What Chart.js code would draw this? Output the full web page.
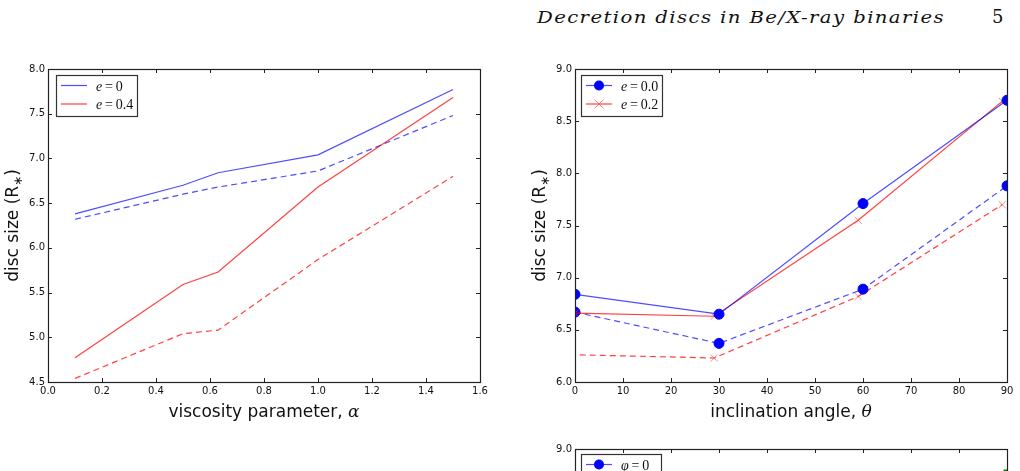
<!DOCTYPE html>
<html>
<head>
<meta charset="utf-8">
<script src="https://cdn.jsdelivr.net/npm/chart.js@4.4.0/dist/chart.umd.min.js"></script>
<style>
  html, body { margin: 0; padding: 0; background: #fff; }
  body { width: 1020px; height: 471px; overflow: hidden; position: relative; }
  canvas { position: absolute; }
  #cabecalho { position: absolute; left: 537px; top: 7px; font-family: 'DejaVu Serif'; font-style: italic; font-size: 17px; letter-spacing: 1.2px; color: #111; white-space: nowrap; transform-origin: 0 0; }
  #pagina { position: absolute; left: 992px; top: 6px; font-family: 'DejaVu Serif'; font-size: 18px; color: #111; }
</style>
</head>
<body>
<div id="cabecalho">Decretion discs in Be/X-ray binaries</div>
<div id="pagina">5</div>
<canvas id="graficoViscosidade" width="500" height="380" style="left:0;top:55px"></canvas>
<canvas id="graficoInclinacao" width="500" height="380" style="left:520px;top:55px"></canvas>
<canvas id="graficoFase" width="500" height="380" style="left:520px;top:435px"></canvas>
<script>
// DADOS - viscosity parameter
var alphaValues = [0.1, 0.5, 0.63, 1.0, 1.5];
var sizeE0 = [6.38, 6.70, 6.84, 7.04, 7.77];
var sizeE0Dashed = [6.32, 6.60, 6.68, 6.86, 7.48];
var sizeE04 = [4.77, 5.59, 5.73, 6.68, 7.68];
var sizeE04Dashed = [4.54, 5.04, 5.08, 5.87, 6.80];

// DADOS - inclination angle
var thetaBlue = [0, 30, 60, 90];
var sizeTheta00 = [6.84, 6.65, 7.71, 8.70];
var sizeTheta00Dashed = [6.67, 6.37, 6.89, 7.88];
var thetaRed = [0, 29, 59, 89];
var sizeTheta02 = [6.66, 6.63, 7.55, 8.69];
var thetaRedDashed = [1, 29, 59, 89];
var sizeTheta02Dashed = [6.26, 6.23, 6.82, 7.70];

// DADOS - third panel (only its top edge is on the page)
var phiEdge = [90];
var sizePhiEdge = [8.77];

var xTicksAlpha = { min: 0, max: 1.6, step: 0.2 };
var yTicksAlpha = { min: 4.5, max: 8.0, step: 0.5 };
var xTicksTheta = { min: 0, max: 90, step: 10 };
var yTicksTheta = { min: 6.0, max: 9.0, step: 0.5 };

// running head stretched to the width it has in the page
var cab = document.getElementById('cabecalho');
cab.style.transform = 'scaleX(' + (408 / cab.getBoundingClientRect().width) + ')';

Chart.defaults.font.family = '"DejaVu Sans"';
Chart.defaults.font.size = 10;
Chart.defaults.color = '#111';

var AZUL = 'rgba(0, 0, 255, 0.7)';
var VERMELHO = 'rgba(255, 0, 0, 0.75)';

function pontos(xs, ys) {
    return xs.map(function (x, i) { return { x: x, y: ys[i] }; });
}

function serie(label, xs, ys, cor, tracejado, marcador) {
    var ds = {
        label: label,
        data: pontos(xs, ys),
        borderColor: cor,
        borderWidth: 1.2,
        borderDash: tracejado ? [6, 4] : [],
        pointRadius: 0,
        tension: 0,
        clip: 0
    };
    if (marcador === 'circle') {
        ds.pointStyle = 'circle';
        ds.pointRadius = 5;
        ds.pointBackgroundColor = '#0000ff';
        ds.pointBorderColor = '#0000ff';
        ds.pointBorderWidth = 1;
    }
    if (marcador === 'crossRot') {
        ds.pointStyle = 'crossRot';
        ds.pointRadius = 5;
        ds.pointBorderColor = 'rgba(255, 70, 70, 0.65)';
        ds.pointBorderWidth = 1;
    }
    if (marcador === 'rect') {
        ds.pointStyle = 'rect';
        ds.pointRadius = 4;
        ds.pointBackgroundColor = '#007a00';
        ds.pointBorderColor = '#007a00';
    }
    return ds;
}

// text made of pieces with different fonts (for the math bits)
function textoMisto(ctx, partes, x, y, centro) {
    var total = 0;
    partes.forEach(function (p) { ctx.font = p.font; total += ctx.measureText(p.text).width; });
    var cx = centro ? x - total / 2 : x;
    partes.forEach(function (p) {
        ctx.font = p.font;
        ctx.fillText(p.text, cx, y + (p.dy || 0));
        cx += ctx.measureText(p.text).width;
    });
}

function marcador(ctx, ds, x, y) {
    ctx.save();
    ctx.setLineDash([]);
    if (ds.pointStyle === 'crossRot') {
        ctx.strokeStyle = ds.pointBorderColor;
        ctx.lineWidth = 1;
        ctx.beginPath();
        ctx.moveTo(x - 4.5, y - 4.5); ctx.lineTo(x + 4.5, y + 4.5);
        ctx.moveTo(x + 4.5, y - 4.5); ctx.lineTo(x - 4.5, y + 4.5);
        ctx.stroke();
    } else if (ds.pointStyle === 'circle') {
        ctx.fillStyle = ds.pointBackgroundColor;
        ctx.beginPath();
        ctx.arc(x, y, 5, 0, Math.PI * 2);
        ctx.fill();
    }
    ctx.restore();
}

// frame, inward ticks, boxed legend and axis titles in matplotlib style
var molduraPlugin = {
    id: 'moldura',
    afterDatasetsDraw: function (chart, args, opts) {
        var ctx = chart.ctx, a = chart.chartArea;
        var xs = chart.scales.x, ys = chart.scales.y;
        ctx.save();
        ctx.strokeStyle = '#222';
        ctx.lineWidth = 1;
        ctx.setLineDash([]);
        ctx.beginPath();
        xs.ticks.forEach(function (t) {
            var px = Math.round(xs.getPixelForValue(t.value)) + 0.5;
            ctx.moveTo(px, a.bottom); ctx.lineTo(px, a.bottom - 4);
            ctx.moveTo(px, a.top); ctx.lineTo(px, a.top + 4);
        });
        ys.ticks.forEach(function (t) {
            var py = Math.round(ys.getPixelForValue(t.value)) + 0.5;
            ctx.moveTo(a.left, py); ctx.lineTo(a.left + 4, py);
            ctx.moveTo(a.right, py); ctx.lineTo(a.right - 4, py);
        });
        ctx.stroke();
        ctx.lineWidth = 1.2;
        ctx.strokeRect(a.left + 0.5, a.top + 0.5, a.right - a.left, a.bottom - a.top);

        // legend
        var lg = opts.legenda;
        var bx = a.left + lg.x, by = a.top + lg.y;
        ctx.fillStyle = '#fff';
        ctx.fillRect(bx, by, lg.w, lg.h);
        ctx.strokeStyle = '#333';
        ctx.strokeRect(bx + 0.5, by + 0.5, lg.w, lg.h);
        var linha = 0;
        chart.data.datasets.forEach(function (ds) {
            if (!ds.label) return;
            var cy = by + 10.5 + linha * 18.5;
            ctx.strokeStyle = ds.borderColor;
            ctx.lineWidth = ds.borderWidth;
            ctx.beginPath();
            ctx.moveTo(bx + 5, cy); ctx.lineTo(bx + 31, cy);
            ctx.stroke();
            if (ds.pointRadius) marcador(ctx, ds, bx + 18, cy);
            var p = ds.label.split('=');
            ctx.fillStyle = '#111';
            ctx.textBaseline = 'alphabetic';
            textoMisto(ctx, [
                { text: p[0], font: 'italic 14px "Liberation Serif"' },
                { text: '\u2009=\u2009' + p[1], font: '14px "Liberation Serif"' }
            ], bx + 40, cy + 5, false);
            linha++;
        });

        // axis titles
        ctx.fillStyle = '#111';
        ctx.textBaseline = 'alphabetic';
        textoMisto(ctx, opts.tituloX, (a.left + a.right) / 2, a.bottom + 35, true);
        ctx.translate(a.left - 30, (a.top + a.bottom) / 2);
        ctx.rotate(-Math.PI / 2);
        textoMisto(ctx, opts.tituloY, 0, 0, true);
        ctx.restore();
    }
};

function escala(eixo, t, casas, tamanho) {
    var s = {
        type: 'linear',
        min: t.min,
        max: t.max,
        grid: { display: false, drawTicks: false },
        border: { display: false },
        ticks: {
            stepSize: t.step,
            padding: 3,
            autoSkip: false,
            maxRotation: 0,
            callback: function (v) { return v.toFixed(casas); }
        }
    };
    if (eixo === 'x') s.afterFit = function (sc) { sc.height = tamanho; };
    else s.afterFit = function (sc) { sc.width = tamanho; };
    return s;
}

var SANS17 = '17px "DejaVu Sans"';
var tituloDisco = [
    { text: 'disc size (R', font: SANS17 },
    { text: '\u2217', font: '12px "DejaVu Sans"', dy: 4 },
    { text: ')', font: SANS17 }
];

function criarGrafico(id, datasets, xt, casasX, yt, larguraY, direita, legenda, tituloX) {
    return new Chart(document.getElementById(id).getContext('2d'), {
        type: 'line',
        data: { datasets: datasets },
        options: {
            responsive: false,
            animation: false,
            devicePixelRatio: 1,
            events: [],
            layout: { padding: { top: 14, right: direita, left: 0, bottom: 0 } },
            scales: {
                x: escala('x', xt, casasX, 53),
                y: escala('y', yt, 1, larguraY)
            },
            plugins: {
                legend: { display: false },
                tooltip: { enabled: false },
                moldura: { legenda: legenda, tituloX: tituloX, tituloY: tituloDisco }
            }
        },
        plugins: [molduraPlugin]
    });
}

// GRÁFICO VISCOSIDADE
var graficoViscosidade = criarGrafico('graficoViscosidade', [
    serie('e=0', alphaValues, sizeE0, AZUL, false),
    serie('e=0.4', alphaValues, sizeE04, VERMELHO, false),
    serie('', alphaValues, sizeE0Dashed, AZUL, true),
    serie('', alphaValues, sizeE04Dashed, VERMELHO, true)
], xTicksAlpha, 1, yTicksAlpha, 48, 20,
    { x: 8, y: 6, w: 81, h: 41 },
    [{ text: 'viscosity parameter, ', font: SANS17 }, { text: '\u03b1', font: 'italic 17px "DejaVu Serif"' }]);

// GRÁFICO INCLINAÇÃO
var tracejadoVermelho = serie('', thetaRedDashed, sizeTheta02Dashed, VERMELHO, true, 'crossRot');
tracejadoVermelho.pointRadius = [0, 5, 5, 5];
var graficoInclinacao = criarGrafico('graficoInclinacao', [
    serie('e=0.0', thetaBlue, sizeTheta00, AZUL, false, 'circle'),
    serie('e=0.2', thetaRed, sizeTheta02, VERMELHO, false, 'crossRot'),
    serie('', thetaBlue, sizeTheta00Dashed, AZUL, true, 'circle'),
    tracejadoVermelho
], xTicksTheta, 0, yTicksTheta, 55, 13,
    { x: 6, y: 6, w: 81, h: 41 },
    [{ text: 'inclination angle, ', font: SANS17 }, { text: '\u03b8', font: 'italic 17px "DejaVu Serif"' }]);

// GRÁFICO FASE (cut by the page edge)
var graficoFase = criarGrafico('graficoFase', [
    serie('\u03c6=0', [], [], AZUL, false, 'circle'),
    serie('', phiEdge, sizePhiEdge, 'rgba(0, 128, 0, 0.7)', false, 'rect')
], xTicksTheta, 0, yTicksTheta, 55, 13,
    { x: 6, y: 5, w: 80, h: 60 },
    [{ text: '', font: SANS17 }]);
</script>
</body>
</html>
